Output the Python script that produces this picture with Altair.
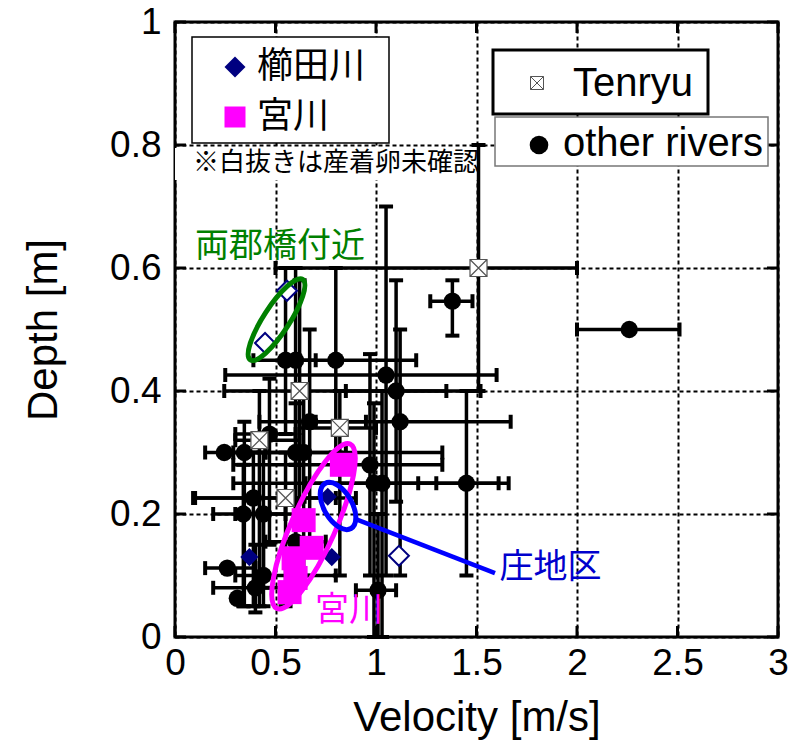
import altair as alt
import pandas as pd

# ---------------- data ----------------
# other rivers: centre, x error range, y error range (None = no bar)
oth_x   = [1.38, 2.26, 0.55, 0.60, 0.80, 1.05, 1.10, 0.67, 1.12, 0.47, 0.245, 0.345, 0.60, 0.64, 0.99, 1.03, 1.45, 0.39, 0.34, 0.44, 0.26, 0.44, 0.40, 0.31, 0.60, 1.01, 0.97]
oth_y   = [0.546, 0.50, 0.45, 0.45, 0.45, 0.426, 0.40, 0.35, 0.35, 0.33, 0.30, 0.30, 0.30, 0.30, 0.25, 0.25, 0.25, 0.226, 0.20, 0.20, 0.112, 0.10, 0.08, 0.063, 0.155, 0.076, 0.28]
oth_xlo = [1.27, 2.00, 0.39, None, 0.62, 0.25, 0.85, 0.42, 0.70, 0.30, 0.15, 0.25, 0.29, 0.45, 0.65, 0.29, 1.21, 0.09, 0.19, 0.30, 0.15, 0.30, 0.19, None, 0.45, 0.90, 0.29]
oth_xhi = [1.48, 2.51, 0.70, None, 1.20, 1.60, 1.35, 0.95, 1.67, 0.60, 0.35, 0.45, 1.33, 0.85, 1.30, 1.66, 1.61, 0.80, 0.55, 0.60, 0.40, 0.80, 0.62, None, 0.75, 1.10, 1.33]
oth_ylo = [0.49, None, 0.33, 0.28, 0.30, 0.10, 0.22, 0.15, 0.10, 0.15, None, 0.05, 0.12, 0.10, 0.00, 0.00, 0.10, 0.05, 0.05, 0.08, None, 0.05, 0.04, None, 0.08, 0.00, 0.10]
oth_yhi = [0.58, None, 0.60, 0.60, 0.60, 0.70, 0.58, 0.50, 0.50, 0.42, None, 0.35, 0.38, 0.40, 0.38, 0.40, 0.40, 0.30, 0.28, 0.30, None, 0.20, 0.15, None, 0.28, 0.20, 0.46]

# Tenryu
ten_x   = [1.51, 0.62, 0.82, 0.42, 0.55]
ten_y   = [0.60, 0.40, 0.34, 0.32, 0.226]
ten_xlo = [0.50, 0.245, 0.62, 0.30, 0.10]
ten_xhi = [2.00, 1.52, 1.00, 0.62, 0.90]
ten_ylo = [0.40, 0.22, 0.10, 0.05, 0.05]
ten_yhi = [0.80, 0.58, 0.40, 0.40, 0.30]

# 櫛田川 (filled = spawning confirmed, open = not confirmed)
kus_fill_x = [0.37, 0.76, 0.78]
kus_fill_y = [0.13, 0.228, 0.13]
kus_open_x = [0.557, 0.448, 1.114]
kus_open_y = [0.563, 0.478, 0.132]

# 宮川
miya_x = [0.83, 0.64, 0.68, 0.59, 0.60, 0.57]
miya_y = [0.28, 0.19, 0.145, 0.128, 0.096, 0.073]

x_ticks = [0, 0.5, 1, 1.5, 2, 2.5, 3]
y_ticks = [0, 0.2, 0.4, 0.6, 0.8, 1]

# annotation texts / positions (data coords)
ann_text  = ["両郡橋付近", "庄地区", "宮川"]
ann_x     = [0.10, 1.615, 0.866]
ann_y     = [0.634, 0.113, 0.043]
ann_color = ["#008000", "#0000CD", "#FF00FF"]
ann_align = ["left", "left", "center"]

# ellipses: centre, semi-axes ratio, rotation, size, colour
ell_x     = [0.505, 0.689, 0.811]
ell_y     = [0.516, 0.180, 0.213]
ell_ratio = [0.27, 0.244, 0.54]
ell_angle = [33, 24, 330]
ell_size  = [9216, 32400, 2704]
ell_color = ["#008000", "#FF00FF", "#0000FF"]

# pointer line to 庄地区
ptr_x = [0.896, 1.592]
ptr_y = [0.192, 0.104]

# ---------------- tables ----------------
all_x = oth_x + ten_x
all_y = oth_y + ten_y
all_xlo = oth_xlo + ten_xlo
all_xhi = oth_xhi + ten_xhi
all_ylo = oth_ylo + ten_ylo
all_yhi = oth_yhi + ten_yhi

hbar, vbar, hcap, vcap = [], [], [], []
for x, y, a, b, c, d in zip(all_x, all_y, all_xlo, all_xhi, all_ylo, all_yhi):
    if a is not None:
        hbar.append({"x": a, "x2": b, "y": y})
        hcap.append({"x": a, "y": y})
        hcap.append({"x": b, "y": y})
    if c is not None:
        vbar.append({"x": x, "y": c, "y2": d})
        vcap.append({"x": x, "y": c})
        vcap.append({"x": x, "y": d})

hbar = pd.DataFrame(hbar)
vbar = pd.DataFrame(vbar)
hcap = pd.DataFrame(hcap)
vcap = pd.DataFrame(vcap)
oth = pd.DataFrame({"x": oth_x, "y": oth_y})
ten = pd.DataFrame({"x": ten_x, "y": ten_y})
kf = pd.DataFrame({"x": kus_fill_x, "y": kus_fill_y})
ko = pd.DataFrame({"x": kus_open_x, "y": kus_open_y})
mi = pd.DataFrame({"x": miya_x, "y": miya_y})
ann = pd.DataFrame({"x": ann_x, "y": ann_y, "t": ann_text, "c": ann_color, "al": ann_align})
ptr = pd.DataFrame({"x": ptr_x, "y": ptr_y, "o": [0, 1]})
xt = pd.DataFrame({"x": x_ticks})
yt = pd.DataFrame({"y": y_ticks})

xscale = alt.Scale(domain=[0, 3], nice=False, zero=False)
yscale = alt.Scale(domain=[0, 1], nice=False, zero=False)
xaxis = alt.Axis(values=x_ticks, format="~g", title="Velocity [m/s]", labelFlush=False)
yaxis = alt.Axis(values=y_ticks, format="~g", title="Depth [m]", labelFlush=False)


def X(f="x"):
    return alt.X(f, type="quantitative", scale=xscale, axis=xaxis)


def Y(f="y"):
    return alt.Y(f, type="quantitative", scale=yscale, axis=yaxis)


CJK = "Noto Sans CJK JP"
LAT = "Liberation Sans"

one = pd.DataFrame({"a": [0]})

layers = []

# white background behind the note
layers.append(alt.Chart(one).mark_rect(fill="white", opacity=1).encode(
    x=alt.value(0), x2=alt.value(310), y=alt.value(126), y2=alt.value(158)))

# inward axis ticks (bottom, top, left, right)
layers.append(alt.Chart(xt).mark_rule(color="black", strokeWidth=3).encode(
    x=X("x"), y=alt.value(615), y2=alt.value(604)))
layers.append(alt.Chart(xt).mark_rule(color="black", strokeWidth=3).encode(
    x=X("x"), y=alt.value(0), y2=alt.value(11)))
layers.append(alt.Chart(yt).mark_rule(color="black", strokeWidth=3).encode(
    y=Y("y"), x=alt.value(0), x2=alt.value(11)))
layers.append(alt.Chart(yt).mark_rule(color="black", strokeWidth=3).encode(
    y=Y("y"), x=alt.value(603), x2=alt.value(592)))

# error bars
layers.append(alt.Chart(hbar).mark_rule(color="black", strokeWidth=3.5).encode(
    x=X("x"), x2="x2", y=Y("y")))
layers.append(alt.Chart(vbar).mark_rule(color="black", strokeWidth=3.5).encode(
    x=X("x"), y=Y("y"), y2="y2"))
layers.append(alt.Chart(hcap).mark_tick(color="black", orient="vertical", size=14, thickness=4, opacity=1).encode(
    x=X("x"), y=Y("y")))
layers.append(alt.Chart(vcap).mark_tick(color="black", orient="horizontal", size=14, thickness=4, opacity=1).encode(
    x=X("x"), y=Y("y")))

# other rivers
layers.append(alt.Chart(oth).mark_circle(color="black", size=300, opacity=1).encode(x=X(), y=Y()))

# Tenryu boxed-X markers
XBOX = "M-1,-1L1,-1L1,1L-1,1Z M-1,-1L1,1 M1,-1L-1,1"
layers.append(alt.Chart(ten).mark_square(color="white", size=289, opacity=1).encode(x=X(), y=Y()))
layers.append(alt.Chart(ten).mark_point(shape=XBOX, filled=False, color="#555555", strokeWidth=1.2, size=289, opacity=1).encode(x=X(), y=Y()))

# 宮川 squares
layers.append(alt.Chart(mi).mark_square(color="#FF00FF", size=576, opacity=1).encode(x=X(), y=Y()))

# 櫛田川 diamonds
layers.append(alt.Chart(kf).mark_point(shape="diamond", filled=True, color="#000080", size=330, opacity=1).encode(x=X(), y=Y()))
layers.append(alt.Chart(ko).mark_point(shape="diamond", fill="white", filled=True, stroke="#000080", strokeWidth=2, size=400, opacity=1).encode(x=X(), y=Y()))

# ellipses
for ex_, ey_, r, ang, sz, col in zip(ell_x, ell_y, ell_ratio, ell_angle, ell_size, ell_color):
    k = 0.5523
    path = (f"M0,-1 C{r*k:.4f},-1 {r:.4f},{-k} {r:.4f},0 C{r:.4f},{k} {r*k:.4f},1 0,1 "
            f"C{-r*k:.4f},1 {-r:.4f},{k} {-r:.4f},0 C{-r:.4f},{-k} {-r*k:.4f},-1 0,-1 Z")
    d = pd.DataFrame({"x": [ex_], "y": [ey_]})
    layers.append(alt.Chart(d).mark_point(shape=path, filled=False, color=col, strokeWidth=5,
                                           size=sz, angle=ang, opacity=1).encode(x=X(), y=Y()))

# pointer line
layers.append(alt.Chart(ptr).mark_line(color="#0000FF", strokeWidth=4.5).encode(x=X(), y=Y(), order="o"))

# annotation texts
for i in range(len(ann_text)):
    d = ann.iloc[[i]]
    layers.append(alt.Chart(d).mark_text(font=CJK, fontSize=34, align=ann_align[i], baseline="middle",
                                         color=ann_color[i]).encode(x=X(), y=Y(), text="t"))

# ---- legend (left box) ----
layers.append(alt.Chart(one).mark_rect(fill="white", stroke="black", strokeWidth=1.5).encode(
    x=alt.value(17), x2=alt.value(214), y=alt.value(15), y2=alt.value(121)))
layers.append(alt.Chart(one).mark_point(shape="diamond", filled=True, color="#000080", size=441, opacity=1).encode(
    x=alt.value(60), y=alt.value(45)))
layers.append(alt.Chart(one).mark_square(color="#FF00FF", size=441, opacity=1).encode(
    x=alt.value(60), y=alt.value(95)))
layers.append(alt.Chart(one).mark_text(font=CJK, fontSize=36, align="left", baseline="middle", color="black", text="櫛田川").encode(
    x=alt.value(82), y=alt.value(45)))
layers.append(alt.Chart(one).mark_text(font=CJK, fontSize=36, align="left", baseline="middle", color="black", text="宮川").encode(
    x=alt.value(82), y=alt.value(95)))
layers.append(alt.Chart(one).mark_text(font=CJK, fontSize=26, align="left", baseline="middle", color="black",
                                       text="※白抜きは産着卵未確認").encode(x=alt.value(18), y=alt.value(141)))

# ---- legend (right boxes) ----
layers.append(alt.Chart(one).mark_rect(fill="white", stroke="black", strokeWidth=3).encode(
    x=alt.value(318), x2=alt.value(533), y=alt.value(28), y2=alt.value(92)))
layers.append(alt.Chart(one).mark_rect(fill="white", stroke="#777777", strokeWidth=1.5).encode(
    x=alt.value(320), x2=alt.value(593), y=alt.value(95), y2=alt.value(144)))
layers.append(alt.Chart(one).mark_point(shape=XBOX, filled=False, color="#555555", strokeWidth=1, size=169, opacity=1).encode(
    x=alt.value(362), y=alt.value(61)))
layers.append(alt.Chart(one).mark_text(font=LAT, fontSize=40, align="left", baseline="middle", color="black", text="Tenryu").encode(
    x=alt.value(398), y=alt.value(62)))
layers.append(alt.Chart(one).mark_circle(color="black", size=346, opacity=1).encode(
    x=alt.value(364), y=alt.value(123)))
layers.append(alt.Chart(one).mark_text(font=LAT, fontSize=40, align="left", baseline="middle", color="black", text="other rivers").encode(
    x=alt.value(388), y=alt.value(122)))

chart = alt.layer(*layers).properties(
    width=603, height=615,
    autosize=alt.AutoSizeParams(type="none"),
    padding={"left": 175, "top": 22, "right": 22, "bottom": 105},
    background="white",
).configure_axis(
    labelFont=LAT, labelFontSize=37, labelColor="black",
    titleFont=LAT, titleFontSize=42, titleFontWeight="normal", titleColor="black",
    grid=True, gridColor="black", gridDash=[4, 3], gridWidth=2, gridOpacity=1,
    domain=False, ticks=False,
).configure_axisX(labelPadding=8, titlePadding=16).configure_axisY(labelPadding=14, titlePadding=44).configure_view(
    stroke="black", strokeWidth=3
)

chart.save("out.html", embed_options={"renderer": "svg", "actions": False})
